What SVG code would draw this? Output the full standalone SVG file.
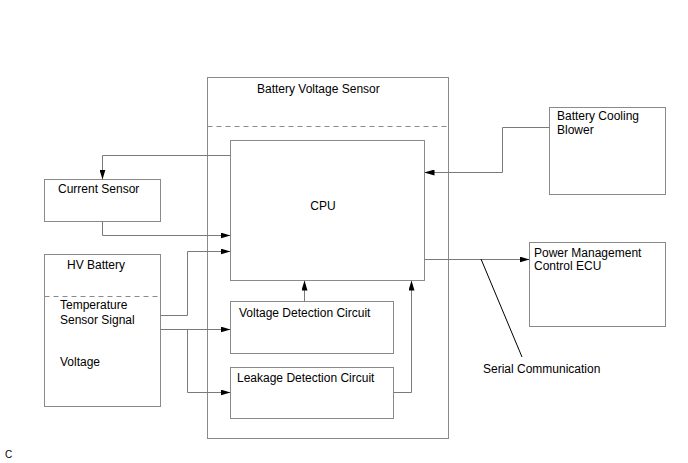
<svg xmlns="http://www.w3.org/2000/svg" width="688" height="463" viewBox="0 0 688 463">
<style>
.box{fill:#fff;stroke:#8a8a8a;stroke-width:1}
.dash{stroke:#8a8a8a;stroke-width:1;stroke-dasharray:5,4;fill:none}
.ln{fill:none;stroke:#7a7a7a;stroke-width:1}
text{font-family:"Liberation Sans",Arial,sans-serif;font-size:12px;fill:#000}
</style>
<defs>
<marker id="ah" markerWidth="10" markerHeight="6" refX="10" refY="3" orient="auto" markerUnits="userSpaceOnUse">
<path d="M0,0 L10,3 L0,6 Z" fill="#000"/>
</marker>
</defs>
<g id="bvs">
<rect class="box" x="207.5" y="77.5" width="241" height="361"/>
<line class="dash" x1="207.5" y1="126.5" x2="448.5" y2="126.5"/>
<text x="257" y="93">Battery Voltage Sensor</text>
</g>
<g id="cpu">
<rect class="box" x="230.5" y="140.5" width="194" height="140"/>
<text x="323" y="210" text-anchor="middle">CPU</text>
</g>
<g id="vdc">
<rect class="box" x="230.5" y="301.5" width="163" height="52"/>
<text x="239" y="317">Voltage Detection Circuit</text>
</g>
<g id="ldc">
<rect class="box" x="230.5" y="367.5" width="163" height="51"/>
<text x="237" y="382">Leakage Detection Circuit</text>
</g>
<g id="current">
<rect class="box" x="44.5" y="179.5" width="116" height="42"/>
<text x="58" y="193">Current Sensor</text>
</g>
<g id="hv">
<rect class="box" x="44.5" y="254.5" width="116" height="152"/>
<line class="dash" x1="44.5" y1="296.5" x2="160.5" y2="296.5"/>
<text x="67" y="269">HV Battery</text>
<text x="60" y="309">Temperature</text>
<text x="60" y="324">Sensor Signal</text>
<text x="60" y="366">Voltage</text>
</g>
<g id="blower">
<rect class="box" x="549.5" y="107.5" width="116" height="87"/>
<text x="557" y="120">Battery Cooling</text>
<text x="557" y="134">Blower</text>
</g>
<g id="pmecu">
<rect class="box" x="529.5" y="242.5" width="136" height="84"/>
<text x="534" y="257">Power Management</text>
<text x="534" y="270">Control ECU</text>
</g>
<g id="connectors">
<polyline class="ln" points="230.5,155.5 102.5,155.5 102.5,179.5" marker-end="url(#ah)"/>
<polyline class="ln" points="102.5,221.5 102.5,235.5 230.5,235.5" marker-end="url(#ah)"/>
<polyline class="ln" points="160.5,315.5 187.5,315.5 187.5,251.5 230.5,251.5" marker-end="url(#ah)"/>
<polyline class="ln" points="160.5,329.5 230.5,329.5" marker-end="url(#ah)"/>
<polyline class="ln" points="187.5,329.5 187.5,392.5 230.5,392.5" marker-end="url(#ah)"/>
<line class="ln" x1="304.5" y1="301.5" x2="304.5" y2="280.5" marker-end="url(#ah)"/>
<polyline class="ln" points="393.5,392.5 411.5,392.5 411.5,280.5" marker-end="url(#ah)"/>
<polyline class="ln" points="549.5,127.5 502.5,127.5 502.5,172.5 424.5,172.5" marker-end="url(#ah)"/>
<line class="ln" x1="424.5" y1="259.5" x2="529.5" y2="259.5" marker-end="url(#ah)"/>
<line x1="481" y1="259" x2="522" y2="357" stroke="#000" stroke-width="1"/>
<text x="483" y="373">Serial Communication</text>
</g>
<text x="5" y="458" style="font-size:10px">C</text>
</svg>
